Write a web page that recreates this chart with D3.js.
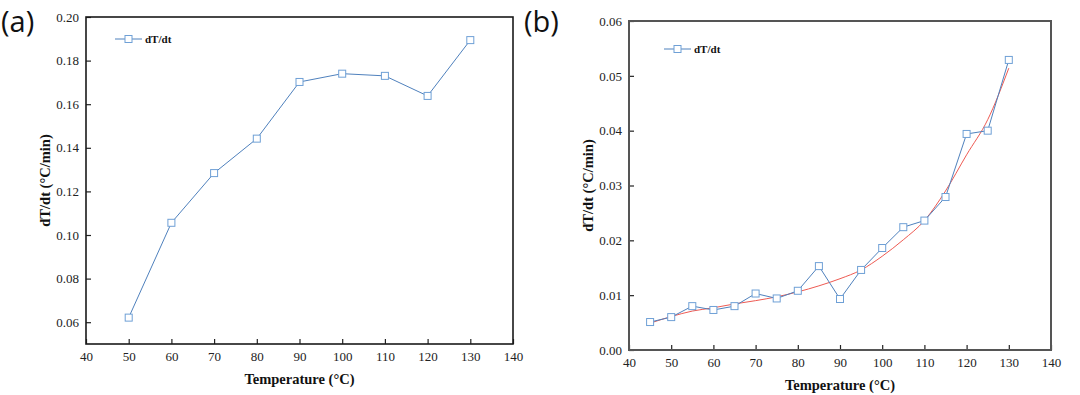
<!DOCTYPE html>
<html>
<head>
<meta charset="utf-8">
<script src="https://cdn.jsdelivr.net/npm/d3@7"></script>
<style>
body{margin:0;background:#fff;}
svg{display:block;}
.tick text{font-family:"Liberation Serif","Times New Roman",serif;font-size:13px;fill:#222;}
.ttl{font-family:"Liberation Serif","Times New Roman",serif;font-size:14.5px;font-weight:bold;fill:#111;}
.lbl{font-family:"Open Sans","Noto Sans",sans-serif;font-size:29px;fill:#111;}
.leg{font-family:"Liberation Serif","Times New Roman",serif;font-size:11px;font-weight:bold;fill:#111;}
</style>
</head>
<body>
<svg id="chart" width="1080" height="395"></svg>
<script>
// panel (a)
const tempA=[50,60,70,80,90,100,110,120,130];
const rateA=[0.0621,0.1056,0.1284,0.1442,0.1702,0.1740,0.1730,0.1638,0.1894];
const yTicksA=[0.06,0.08,0.10,0.12,0.14,0.16,0.18,0.20];
// panel (b)
const tempB=[45,50,55,60,65,70,75,80,85,90,95,100,105,110,115,120,125,130];
const rateB=[0.0051,0.0060,0.0080,0.0073,0.0080,0.0103,0.0094,0.0108,0.0153,0.0093,0.0146,0.0186,0.0224,0.0236,0.0279,0.0394,0.0400,0.0529];
// red fitted curve
const fitT=[45,50,55,60,65,70,75,80,85,90,95,100,105,110,115,120,125,130];
const fitB=[0.0049,0.0061,0.0071,0.0077,0.0084,0.0090,0.0097,0.0106,0.0117,0.0130,0.0146,0.0171,0.0201,0.0236,0.0290,0.0356,0.0420,0.0514];
const yTicksB=[0.00,0.01,0.02,0.03,0.04,0.05,0.06];
const xTicks=[40,50,60,70,80,90,100,110,120,130,140];

const svg=d3.select('#chart');
const BLUE='#4f81bd',MARK='#6fa0d6',RED='#ee5a52';

function panel(o){
  const g=svg.append('g');
  const x=d3.scaleLinear().domain([40,140]).range([o.x0,o.x1]);
  const y=d3.scaleLinear().domain(o.yDom).range([o.y1,o.y0]);

  g.append('g').attr('transform',`translate(0,${o.y1})`)
    .call(d3.axisBottom(x).tickValues(xTicks).tickSizeInner(-5).tickSizeOuter(0).tickPadding(8).tickFormat(d3.format('d')))
    .call(a=>a.select('.domain').remove())
    .call(a=>a.selectAll('line').attr('stroke','#222').attr('stroke-width',1.2));
  g.append('g').attr('transform',`translate(${o.x0},0)`)
    .call(d3.axisLeft(y).tickValues(o.yTicks).tickSizeInner(-5).tickSizeOuter(0).tickPadding(7).tickFormat(d3.format('.2f')))
    .call(a=>a.select('.domain').remove())
    .call(a=>a.selectAll('line').attr('stroke','#222').attr('stroke-width',1.2));

  g.append('rect').attr('x',o.x0).attr('y',o.y0).attr('width',o.x1-o.x0).attr('height',o.y1-o.y0)
    .attr('fill','none').attr('stroke',o.frame).attr('stroke-width',o.fw);

  if(o.fit){
    g.append('path').datum(d3.zip(fitT,fitB))
      .attr('d',d3.line().x(d=>x(d[0])).y(d=>y(d[1])).curve(d3.curveMonotoneX))
      .attr('fill','none').attr('stroke',RED).attr('stroke-width',1);
  }
  const pts=d3.zip(o.t,o.v);
  g.append('path').datum(pts)
    .attr('d',d3.line().x(d=>x(d[0])).y(d=>y(d[1])))
    .attr('fill','none').attr('stroke',BLUE).attr('stroke-width',1);
  g.selectAll('rect.pt').data(pts).enter().append('rect').attr('class','pt')
    .attr('x',d=>x(d[0])-3.5).attr('y',d=>y(d[1])-3.5).attr('width',7).attr('height',7)
    .attr('fill','#fff').attr('stroke',MARK).attr('stroke-width',1);

  // legend
  g.append('line').attr('x1',o.lx).attr('x2',o.lx+27).attr('y1',o.ly).attr('y2',o.ly)
    .attr('stroke',BLUE).attr('stroke-width',1);
  g.append('rect').attr('x',o.lx+10).attr('y',o.ly-3.5).attr('width',7).attr('height',7)
    .attr('fill','#fff').attr('stroke',MARK);
  g.append('text').attr('class','leg').attr('x',o.lx+30).attr('y',o.ly+4).text('dT/dt');

  g.append('text').attr('class','ttl').attr('text-anchor','middle')
    .attr('x',(o.x0+o.x1)/2).attr('y',o.y1+40).text('Temperature (°C)');
  g.append('text').attr('class','ttl').attr('text-anchor','middle')
    .attr('transform',`translate(${o.x0-36},${(o.y0+o.y1)/2}) rotate(-90)`).text('dT/dt (°C/min)');
  g.append('text').attr('class','lbl').attr('x',o.px).attr('y',32).text(o.name);
}

panel({x0:86,x1:513,y0:17,y1:344,yDom:[0.05,0.20],yTicks:yTicksA,t:tempA,v:rateA,
  frame:'#1a1a1a',fw:1.6,lx:115,ly:39,px:1,name:'(a)'});
panel({x0:629,x1:1051,y0:21,y1:350,yDom:[0,0.06],yTicks:yTicksB,t:tempB,v:rateB,fit:true,
  frame:'#555',fw:2,lx:664,ly:49,px:524,name:'(b)'});
</script>
</body>
</html>
